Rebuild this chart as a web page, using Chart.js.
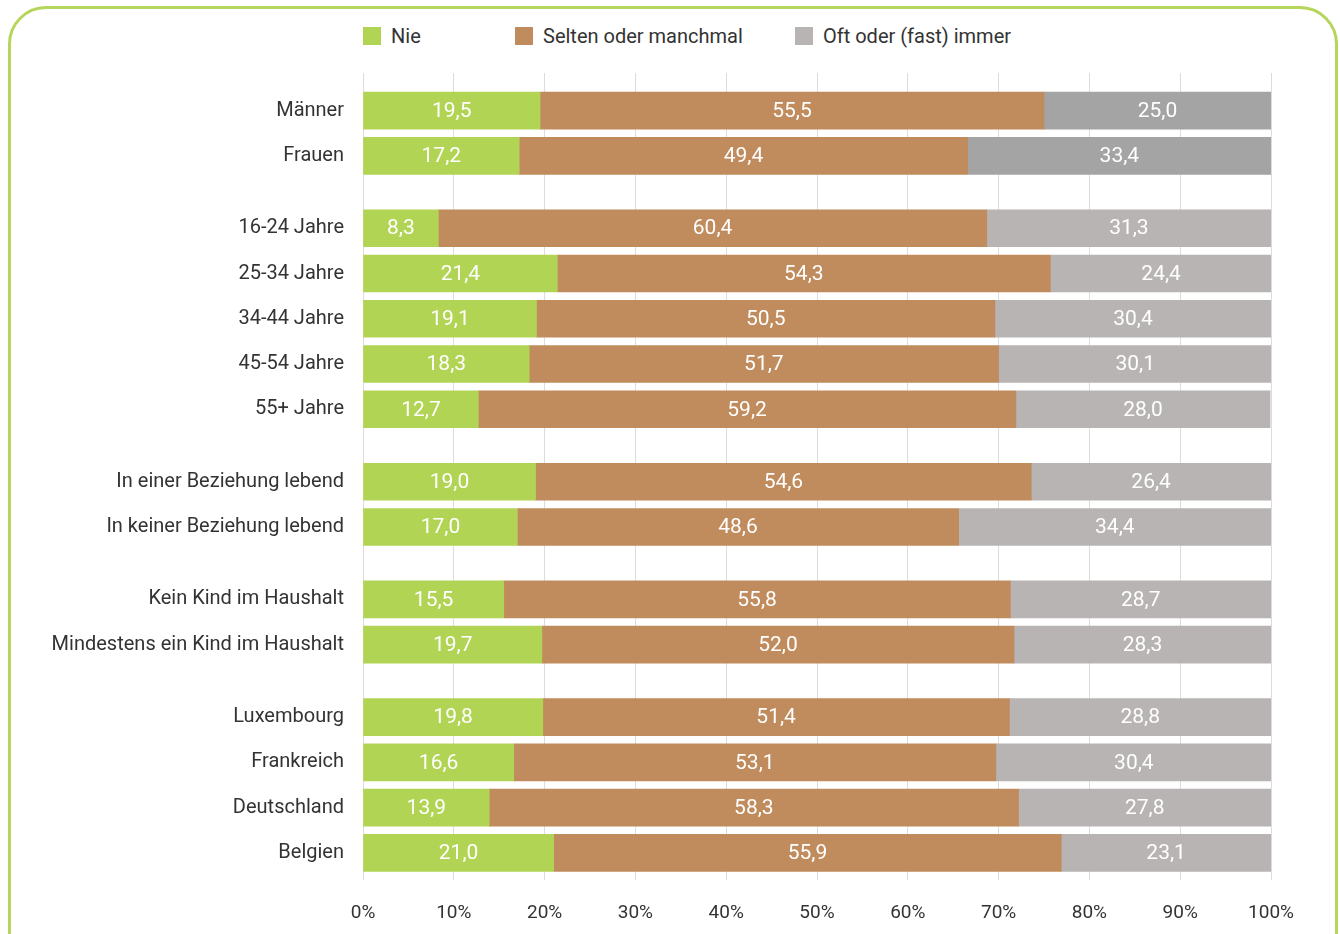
<!DOCTYPE html>
<html lang="de">
<head>
<meta charset="UTF-8">
<title>Häufigkeit nach Gruppen</title>
<script src="https://cdn.jsdelivr.net/npm/chart.js"></script>
<style>
  html, body { margin: 0; padding: 0; background: #fff; }
  body { width: 1340px; height: 934px; position: relative; overflow: hidden; font-family: Roboto, sans-serif; }
  .frame { position: absolute; left: 8px; top: 6px; width: 1324px; height: 980px; border: 3px solid #b6d55c; border-radius: 38px; }
  #legend { position: absolute; top: 24px; left: 0; width: 1340px; height: 26px; }
  .item { position: absolute; top: 0; display: flex; align-items: center; font-size: 20px; color: #333; }
  .item span.box { width: 18px; height: 18px; margin-right: 10px; display: inline-block; }
  #wrap { position: absolute; left: 0; top: 0; width: 1340px; height: 934px; }
</style>
</head>
<body>
<div class="frame"></div>
<div id="legend"></div>
<div id="wrap"><canvas id="chart" width="1340" height="934"></canvas></div>
<script>
  const categories = [
    'Männer', 'Frauen',
    '16-24 Jahre', '25-34 Jahre', '34-44 Jahre', '45-54 Jahre', '55+ Jahre',
    'In einer Beziehung lebend', 'In keiner Beziehung lebend',
    'Kein Kind im Haushalt', 'Mindestens ein Kind im Haushalt',
    'Luxembourg', 'Frankreich', 'Deutschland', 'Belgien'
  ];
  // which block each row belongs to (blocks are separated by a wider gap)
  const groups = [0, 0, 1, 1, 1, 1, 1, 2, 2, 3, 3, 4, 4, 4, 4];

  const seriesNames = ['Nie', 'Selten oder manchmal', 'Oft oder (fast) immer'];
  const nie = [19.5, 17.2, 8.3, 21.4, 19.1, 18.3, 12.7, 19.0, 17.0, 15.5, 19.7, 19.8, 16.6, 13.9, 21.0];
  const selten = [55.5, 49.4, 60.4, 54.3, 50.5, 51.7, 59.2, 54.6, 48.6, 55.8, 52.0, 51.4, 53.1, 58.3, 55.9];
  const oft = [25.0, 33.4, 31.3, 24.4, 30.4, 30.1, 28.0, 26.4, 34.4, 28.7, 28.3, 28.8, 30.4, 27.8, 23.1];
  const xTicks = [0, 10, 20, 30, 40, 50, 60, 70, 80, 90, 100];

  const GREEN = '#b2d454', BROWN = '#c08c5d', GREY = '#b9b4b4', GREY_DARK = '#a4a4a4';
  const GAP = 0.6;

  const rowPos = categories.map((c, i) => i + groups[i] * GAP);
  const toPoints = vals => vals.map((v, i) => ({ x: v, y: rowPos[i] }));
  const fmt = v => v.toFixed(1).replace('.', ',');

  // legend, laid out as in the print version
  const legendLeft = [363, 515, 795];
  const legendColors = [GREEN, BROWN, GREY];
  const legendEl = document.getElementById('legend');
  seriesNames.forEach((name, i) => {
    const d = document.createElement('div');
    d.className = 'item';
    d.style.left = legendLeft[i] + 'px';
    d.innerHTML = '<span class="box" style="background:' + legendColors[i] + '"></span>' + name;
    legendEl.appendChild(d);
  });

  const valueLabels = {
    id: 'valueLabels',
    afterDatasetsDraw(chart) {
      const ctx = chart.ctx;
      ctx.save();
      ctx.font = '21px Roboto, sans-serif';
      ctx.fillStyle = '#fff';
      ctx.textAlign = 'center';
      ctx.textBaseline = 'middle';
      chart.data.datasets.forEach((ds, di) => {
        chart.getDatasetMeta(di).data.forEach((bar, i) => {
          const p = bar.getProps(['x', 'y', 'base'], true);
          ctx.fillText(fmt(ds.data[i].x), (p.x + p.base) / 2, p.y + 1);
        });
      });
      ctx.restore();
    }
  };

  Chart.defaults.font.family = 'Roboto, sans-serif';
  Chart.defaults.color = '#333';

  new Chart(document.getElementById('chart'), {
    type: 'bar',
    data: {
      datasets: [
        { label: seriesNames[0], data: toPoints(nie), backgroundColor: GREEN },
        { label: seriesNames[1], data: toPoints(selten), backgroundColor: BROWN },
        { label: seriesNames[2], data: toPoints(oft),
          backgroundColor: groups.map(g => g === 0 ? GREY_DARK : GREY) }
      ]
    },
    options: {
      indexAxis: 'y',
      responsive: false,
      animation: false,
      barThickness: 37,
      layout: { padding: { top: 73, right: 69, left: 0, bottom: 0 } },
      plugins: { legend: { display: false }, tooltip: { enabled: false } },
      scales: {
        x: {
          stacked: true,
          min: 0, max: 100,
          afterBuildTicks: s => { s.ticks = xTicks.map(v => ({ value: v })); },
          afterFit: s => { s.height = 54; },
          grid: { color: '#dcdcdc', drawTicks: false },
          border: { display: false },
          ticks: { padding: 22, font: { size: 19 }, callback: v => v + '%' }
        },
        y: {
          type: 'linear',
          stacked: true,
          reverse: true,
          offset: false,
          min: -0.83, max: rowPos[rowPos.length - 1] + 0.6,
          afterBuildTicks: s => { s.ticks = rowPos.map(v => ({ value: v })); },
          afterFit: s => { s.width = 363; },
          grid: { display: false },
          border: { display: false },
          ticks: { padding: 11, font: { size: 20 }, callback: (v, i) => categories[i] }
        }
      }
    },
    plugins: [valueLabels]
  });
</script>
</body>
</html>
